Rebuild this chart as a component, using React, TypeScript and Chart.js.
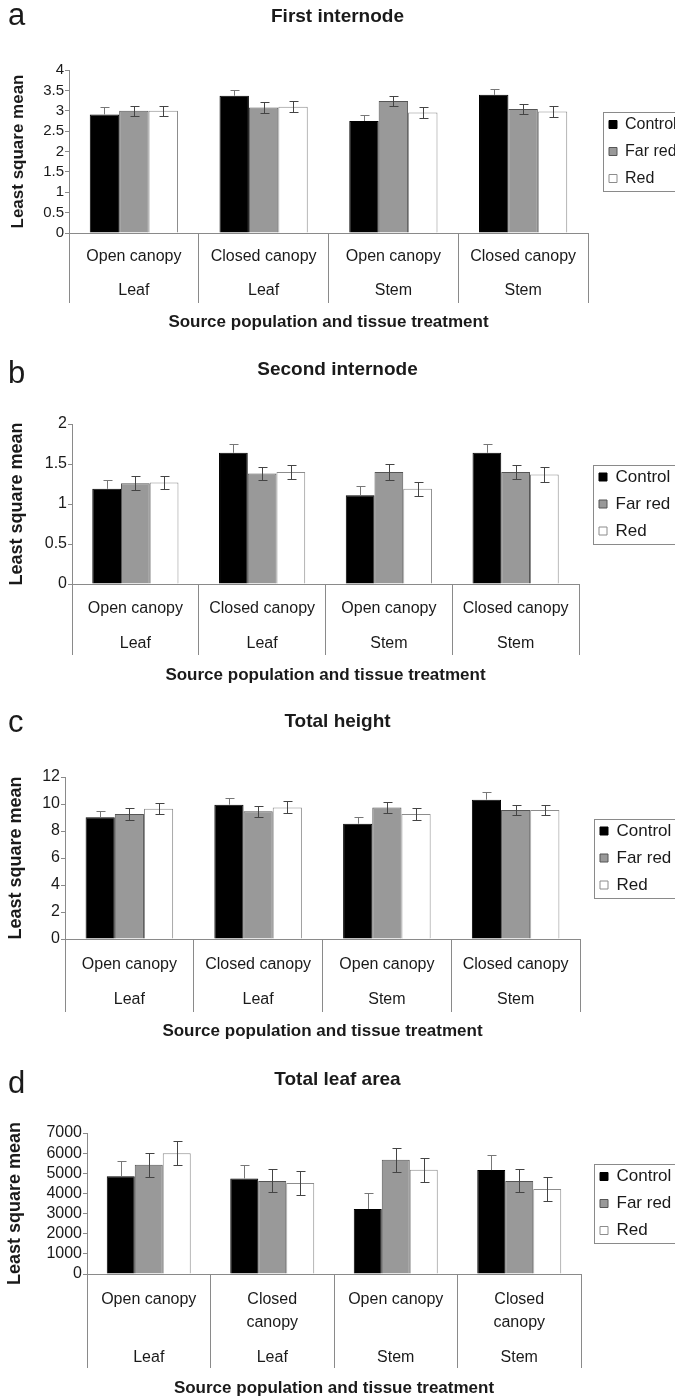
import React, { useEffect, useRef } from "react";
import { Chart, registerables } from "chart.js";

Chart.register(...registerables);

// ---------- data ----------
const populations = ["Open canopy", "Closed canopy", "Open canopy", "Closed canopy"];
const populationsWrapped = [["Open canopy"], ["Closed", "canopy"], ["Open canopy"], ["Closed", "canopy"]];
const tissues = ["Leaf", "Leaf", "Stem", "Stem"];
const seriesNames = ["Control", "Far red", "Red"];
const xAxisTitle = "Source population and tissue treatment";
const yAxisTitle = "Least square mean";

// a — First internode
const firstControl = [2.91, 3.37, 2.75, 3.39];
const firstControlErr = [0.17, 0.14, 0.15, 0.15];
const firstFarRed = [3.0, 3.08, 3.24, 3.04];
const firstFarRedErr = [0.12, 0.13, 0.12, 0.12];
const firstRed = [3.0, 3.1, 2.96, 2.98];
const firstRedErr = [0.12, 0.13, 0.14, 0.13];

// b — Second internode
const secondControl = [1.19, 1.64, 1.11, 1.64];
const secondControlErr = [0.11, 0.11, 0.11, 0.11];
const secondFarRed = [1.26, 1.38, 1.4, 1.4];
const secondFarRedErr = [0.09, 0.08, 0.095, 0.09];
const secondRed = [1.27, 1.4, 1.19, 1.37];
const secondRedErr = [0.085, 0.09, 0.09, 0.09];

// c — Total height
const heightControl = [9.01, 9.95, 8.54, 10.32];
const heightControlErr = [0.45, 0.47, 0.52, 0.54];
const heightFarRed = [9.26, 9.46, 9.75, 9.56];
const heightFarRedErr = [0.41, 0.4, 0.41, 0.4];
const heightRed = [9.65, 9.75, 9.26, 9.56];
const heightRedErr = [0.4, 0.45, 0.43, 0.4];

// d — Total leaf area
const areaControl = [4850, 4740, 3230, 5160];
const areaControlErr = [750, 680, 800, 745];
const areaFarRed = [5420, 4620, 5670, 4620];
const areaFarRedErr = [590, 570, 595, 570];
const areaRed = [6000, 4520, 5170, 4220];
const areaRedErr = [580, 590, 600, 595];

// ---------- styles ----------
const FONT = "'Liberation Sans', Arial, Helvetica, sans-serif";
const TEXT = "#1a1a1a";
const AXIS = "#8a8a8a";
const PAGE_W = 675;
const LEGEND_W = 80;
const barFill = ["#000000", "#999999", "#ffffff"];
const barBorder = ["#000000", "#555555", "#8c8c8c"];
const errColor = ["#777777", "#444444", "#444444"];

type Panel = {
  letter: string;
  title: string;
  values: number[][];
  errors: number[][];
  yMax: number;
  yStep: number;
  wrapLabels: boolean;
  top: number;
  height: number;
  axisX: number;
  plotRight: number;
  titlePadTop: number;
  titlePadBottom: number;
  xScaleHeight: number;
  xTickLen: number;
  xTickPad: number;
  xLineHeight: number;
  xTitlePadBottom: number;
  yTickFont: number;
  yTitleFont: number;
  yTitleCenter: number;
  legendFont: number;
  legendPad: number;
  symbolX: number;
  letterY: number;
};

const panels: Panel[] = [
  {
    letter: "a", title: "First internode",
    values: [firstControl, firstFarRed, firstRed],
    errors: [firstControlErr, firstFarRedErr, firstRedErr],
    yMax: 4, yStep: 0.5, wrapLabels: false,
    top: 0, height: 340, axisX: 69, plotRight: 588,
    titlePadTop: 5.6, titlePadBottom: 41.6,
    xScaleHeight: 107, xTickLen: 70, xTickPad: -63, xLineHeight: 34, xTitlePadBottom: 7.8,
    yTickFont: 15, yTitleFont: 17, yTitleCenter: 18.5,
    legendFont: 16, legendPad: 11, symbolX: 609, letterY: 25,
  },
  {
    letter: "b", title: "Second internode",
    values: [secondControl, secondFarRed, secondRed],
    errors: [secondControlErr, secondFarRedErr, secondRedErr],
    yMax: 2, yStep: 0.5, wrapLabels: false,
    top: 340, height: 350, axisX: 72, plotRight: 579,
    titlePadTop: 18.6, titlePadBottom: 42.6,
    xScaleHeight: 106, xTickLen: 71, xTickPad: -63.5, xLineHeight: 35, xTitlePadBottom: 4.8,
    yTickFont: 16, yTitleFont: 18, yTitleCenter: 17.5,
    legendFont: 17, legendPad: 10, symbolX: 599, letterY: 43,
  },
  {
    letter: "c", title: "Total height",
    values: [heightControl, heightFarRed, heightRed],
    errors: [heightControlErr, heightFarRedErr, heightRedErr],
    yMax: 12, yStep: 2, wrapLabels: false,
    top: 690, height: 355, axisX: 65, plotRight: 580,
    titlePadTop: 20.6, titlePadBottom: 43.6,
    xScaleHeight: 106, xTickLen: 73, xTickPad: -64.5, xLineHeight: 35, xTitlePadBottom: 3.8,
    yTickFont: 16, yTitleFont: 18, yTitleCenter: 16,
    legendFont: 17, legendPad: 10, symbolX: 600, letterY: 42,
  },
  {
    letter: "d", title: "Total leaf area",
    values: [areaControl, areaFarRed, areaRed],
    errors: [areaControlErr, areaFarRedErr, areaRedErr],
    yMax: 7000, yStep: 1000, wrapLabels: true,
    top: 1045, height: 353, axisX: 87, plotRight: 581,
    titlePadTop: 23.6, titlePadBottom: 41.6,
    xScaleHeight: 124, xTickLen: 94, xTickPad: -73.75, xLineHeight: 11.5, xTitlePadBottom: -0.2,
    yTickFont: 16, yTitleFont: 18, yTitleCenter: 15.5,
    legendFont: 17, legendPad: 10, symbolX: 600, letterY: 48,
  },
];

function buildLabels(p: Panel): string[][] {
  return populations.map((pop, i) => {
    if (!p.wrapLabels) return [pop, tissues[i]];
    const w = populationsWrapped[i];
    const lines = ["", "", "", "", "", tissues[i]];
    lines[0] = w[0];
    if (w.length > 1) lines[2] = w[1];
    return lines;
  });
}

function PanelChart({ p }: { p: Panel }) {
  const ref = useRef<HTMLCanvasElement | null>(null);

  useEffect(() => {
    const canvas = ref.current;
    if (!canvas) return;
    const pad = PAGE_W - LEGEND_W - p.plotRight;
    const yTitleLH = p.yTitleFont * 1.2;

    const panelPlugin = {
      id: "panelExtras" + p.letter,
      afterLayout(chart: any) {
        const lg = chart.legend;
        if (!lg) return;
        lg.left = p.symbolX - p.legendPad;
        lg.right = PAGE_W;
        lg.width = lg.right - lg.left;
      },
      afterDatasetsDraw(chart: any) {
        const ctx = chart.ctx;
        const y = chart.scales.y;
        chart.data.datasets.forEach((ds: any, i: number) => {
          const meta = chart.getDatasetMeta(i);
          meta.data.forEach((bar: any, j: number) => {
            const v = ds.data[j];
            const e = ds.errors[j];
            const yt = Math.round(y.getPixelForValue(v + e)) + 0.5;
            let yb = Math.round(y.getPixelForValue(v - e)) + 0.5;
            const x = Math.round(bar.x) + 0.5;
            ctx.save();
            ctx.strokeStyle = ds.errorColor;
            ctx.lineWidth = 1;
            ctx.beginPath();
            if (i === 0) {
              yb = Math.min(yb, bar.y);
              ctx.moveTo(x, yt);
              ctx.lineTo(x, yb);
              ctx.moveTo(x - 4, yt);
              ctx.lineTo(x + 5, yt);
            } else {
              ctx.moveTo(x, yt);
              ctx.lineTo(x, yb);
              ctx.moveTo(x - 4, yt);
              ctx.lineTo(x + 5, yt);
              ctx.moveTo(x - 4, yb);
              ctx.lineTo(x + 5, yb);
            }
            ctx.stroke();
            ctx.restore();
          });
        });
      },
      afterDraw(chart: any) {
        const ctx = chart.ctx;
        const lg = chart.legend;
        if (lg && lg.legendHitBoxes && lg.legendHitBoxes.length) {
          const hb = lg.legendHitBoxes;
          const first = hb[0];
          const last = hb[hb.length - 1];
          const top = Math.round(first.top + first.height / 2 - 12.5) + 0.5;
          const bottom = Math.round(last.top + last.height / 2 + 12.5) + 0.5;
          const left = Math.round(p.symbolX - 6) + 0.5;
          ctx.save();
          ctx.strokeStyle = AXIS;
          ctx.lineWidth = 1;
          ctx.strokeRect(left, top, PAGE_W + 10 - left, bottom - top);
          ctx.restore();
        }
        ctx.save();
        ctx.font = "31px " + FONT;
        ctx.fillStyle = TEXT;
        ctx.textBaseline = "alphabetic";
        ctx.textAlign = "left";
        ctx.fillText(p.letter, 8, p.letterY);
        ctx.restore();
      },
    };

    const chart = new Chart(canvas, {
      type: "bar",
      data: {
        labels: buildLabels(p),
        datasets: seriesNames.map((name, i) => ({
          label: name,
          data: p.values[i],
          errors: p.errors[i],
          errorColor: errColor[i],
          backgroundColor: barFill[i],
          borderColor: barBorder[i],
          borderWidth: 1,
          categoryPercentage: 0.68,
          barPercentage: 1.0,
        })) as any,
      },
      options: {
        animation: false,
        responsive: false,
        devicePixelRatio: 1,
        events: [],
        layout: { padding: { left: pad, right: pad, top: 0, bottom: 0 } },
        plugins: {
          tooltip: { enabled: false },
          title: {
            display: true,
            text: p.title,
            color: TEXT,
            font: { family: FONT, size: 19, weight: "bold", lineHeight: 1.2 },
            padding: { top: p.titlePadTop, bottom: p.titlePadBottom },
          },
          legend: {
            display: true,
            position: "right",
            align: "center",
            fullSize: false,
            maxWidth: LEGEND_W,
            labels: {
              boxWidth: 8,
              boxHeight: 8,
              padding: p.legendPad,
              color: TEXT,
              font: { family: FONT, size: p.legendFont },
            },
          },
        },
        scales: {
          x: {
            type: "category",
            offset: true,
            grid: {
              offset: true,
              drawOnChartArea: false,
              drawTicks: true,
              tickLength: p.xTickLen,
              color: AXIS,
              lineWidth: 1,
            },
            border: { display: true, color: AXIS, width: 1 },
            ticks: {
              autoSkip: false,
              maxRotation: 0,
              minRotation: 0,
              padding: p.xTickPad,
              color: TEXT,
              font: { family: FONT, size: 16, lineHeight: p.xLineHeight / 16 },
            },
            title: {
              display: true,
              text: xAxisTitle,
              color: TEXT,
              font: { family: FONT, size: 17, weight: "bold", lineHeight: 1.2 },
              padding: { top: 0, bottom: p.xTitlePadBottom },
            },
            afterFit: (scale: any) => {
              scale.height = p.xScaleHeight;
            },
          },
          y: {
            min: 0,
            max: p.yMax,
            grid: {
              drawOnChartArea: false,
              drawTicks: true,
              tickLength: 4,
              color: AXIS,
              lineWidth: 1,
            },
            border: { display: true, color: AXIS, width: 1 },
            ticks: {
              stepSize: p.yStep,
              autoSkip: false,
              padding: 1,
              color: TEXT,
              font: { family: FONT, size: p.yTickFont },
              callback: (v: any) => String(v),
            },
            title: {
              display: true,
              text: yAxisTitle,
              color: TEXT,
              font: { family: FONT, size: p.yTitleFont, weight: "bold", lineHeight: 1.2 },
              padding: { top: p.yTitleCenter - yTitleLH / 2 - pad, bottom: 0 },
            },
            afterFit: (scale: any) => {
              scale.width = p.axisX - pad;
            },
          },
        },
      } as any,
      plugins: [panelPlugin],
    });

    return () => {
      chart.destroy();
    };
  }, [p]);

  return (
    <div style={{ position: "absolute", left: 0, top: p.top, width: PAGE_W, height: p.height }}>
      <canvas ref={ref} width={PAGE_W} height={p.height} style={{ display: "block" }} />
    </div>
  );
}

export default function App() {
  return (
    <div
      style={{
        position: "absolute",
        left: 0,
        top: 0,
        width: PAGE_W,
        height: 1398,
        overflow: "hidden",
        background: "#ffffff",
      }}
    >
      {panels.map((p) => (
        <PanelChart key={p.letter} p={p} />
      ))}
    </div>
  );
}
